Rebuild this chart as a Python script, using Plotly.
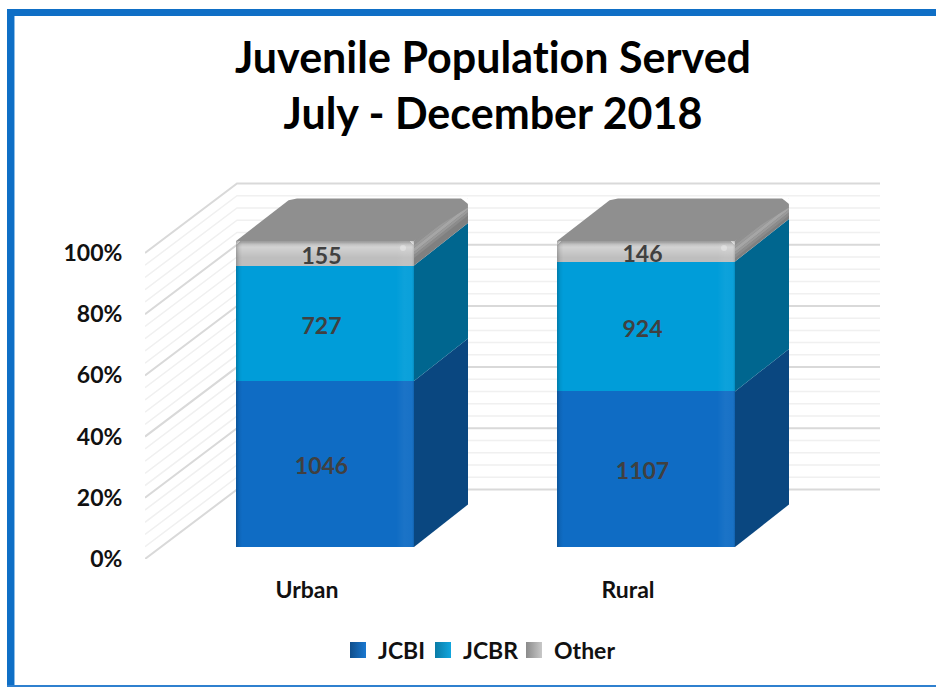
import plotly.graph_objects as go

# ---- data ----
categories = ["Urban", "Rural"]
series_names = ["JCBI", "JCBR", "Other"]
jcbi = [1046, 1107]
jcbr = [727, 924]
other = [155, 146]
percent_ticks = [0, 20, 40, 60, 80, 100]
percent_labels = ["0%", "20%", "40%", "60%", "80%", "100%"]
wall_minor_step = 4

# ---- styling ----
front_colors = ["#0F6CC4", "#009DD9", "#BEBEBE"]
side_colors = ["#0A4780", "#00668F", "#808080"]
legend_dark = ["#0F4E8C", "#0A7BA6", "#8A8A8A"]
legend_light = ["#1A78D0", "#12A6DE", "#C8C8C8"]
top_color = "#8F8F8F"
FRAME = "#0F6FC6"
FONT = "Lato"

W, H = 936, 687
PL, PR, PT, PB = 145, 0, 170, 128      # plot area margins
UNIT_X = 321.0                         # pixels per category
UNIT_Y = 3.06                          # pixels per percent
LABEL_X0 = 307.0                       # pixel of the first category label

BAR_SHIFT = 18 / UNIT_X
BAR_W = 178 / UNIT_X
BAR_BASE = 12 / UNIT_Y
BAR_DX = 54 / UNIT_X
BAR_DY = 42.5 / UNIT_Y
WALL_DX = 92 / UNIT_X
WALL_DY = 69.5 / UNIT_Y
XMIN = (PL - LABEL_X0) / UNIT_X
XMAX = (W - PR - LABEL_X0) / UNIT_X
WALL_END = (880 - LABEL_X0) / UNIT_X
YMAX = (H - PB - PT) / UNIT_Y


def paper_x(px):
    return (px - PL) / (W - PL - PR)


def paper_y(py):
    return (H - PB - py) / (H - PB - PT)


values = [jcbi, jcbr, other]
totals = [sum(v[i] for v in values) for i in range(len(categories))]
shares = [[v[i] / totals[i] * 100 for i in range(len(categories))] for v in values]

fig = go.Figure()

# invisible spacer lifting the bars off the front edge of the floor
fig.add_bar(
    x=[i + BAR_SHIFT for i in range(len(categories))],
    y=[BAR_BASE] * len(categories),
    width=BAR_W,
    marker=dict(color="rgba(0,0,0,0)", line_width=0),
    showlegend=False,
    hoverinfo="skip",
)
# front faces
for s, name in enumerate(series_names):
    fig.add_bar(
        x=[i + BAR_SHIFT for i in range(len(categories))],
        y=shares[s],
        width=BAR_W,
        name=name,
        legendgroup=name,
        showlegend=False,
        marker=dict(color=front_colors[s], line_width=0),
    )


def poly(xs, ys, color=None, gradient=None):
    kw = dict(fillcolor=color) if color else dict(fillgradient=gradient)
    fig.add_scatter(
        x=xs + xs[:1], y=ys + ys[:1], mode="lines", fill="toself",
        line=dict(width=0), showlegend=False, hoverinfo="skip", **kw
    )


# soft bevel bands on the side of the top segment: (from px, to px, colour)
side_bands = [(0, 4, "#909090"), (4, 7, "#9B9B9B"), (7, 11, "#A6A6A6"),
              (11, 14, "#9A9A9A"), (14, 17, "#8C8C8C")]

for i in range(len(categories)):
    left = i + BAR_SHIFT - BAR_W / 2
    right = i + BAR_SHIFT + BAR_W / 2
    lo = BAR_BASE
    # side faces
    for s in range(3):
        hi = lo + shares[s][i]
        poly([right, right + BAR_DX, right + BAR_DX, right],
             [lo, lo + BAR_DY, hi + BAR_DY, hi], side_colors[s])
        lo = hi
    top = lo
    ch = 9 / UNIT_Y   # rounding of the back corners
    cx = 7 / UNIT_X
    # bevel bands running along the upper edge of the side face
    for a, b, c in side_bands:
        a_u, b_u = a / UNIT_Y, b / UNIT_Y
        poly([right, right + BAR_DX, right + BAR_DX, right],
             [top - a_u, top + BAR_DY - a_u, top + BAR_DY - b_u, top - b_u], c)
    # top face, back corners chamfered
    poly([left, right, right + BAR_DX, right + BAR_DX - 0.3 * cx, right + BAR_DX - cx,
          left + BAR_DX + cx, left + BAR_DX - 0.2 * cx, left],
         [top, top, top + BAR_DY - ch, top + BAR_DY - 0.25 * ch, top + BAR_DY,
          top + BAR_DY, top + BAR_DY - 0.2 * ch, top],
         top_color)
    # white corner cut-out so that the back-right corner reads rounded
    poly([right + BAR_DX, right + BAR_DX, right + BAR_DX - cx],
         [top + BAR_DY - 0.6 * ch, top + BAR_DY + 0.1, top + BAR_DY + 0.1], "white")
    # bevel along the top of the front face
    bevel = 22 / UNIT_Y
    poly([left, right, right, left], [top - bevel, top - bevel, top, top],
         gradient=dict(type="vertical", colorscale=[
             [0, "rgba(255,255,255,0)"], [0.25, "rgba(255,255,255,0)"], [0.72, "rgba(255,255,255,0.32)"],
             [0.82, "rgba(255,255,255,0.12)"], [0.92, "rgba(70,70,70,0.18)"], [1, "rgba(70,70,70,0.3)"]]))
    # soft shading across the front face
    poly([left, right, right, left], [BAR_BASE, BAR_BASE, top, top],
         gradient=dict(type="horizontal", colorscale=[
             [0, "rgba(0,0,0,0.22)"], [0.018, "rgba(0,0,0,0.06)"], [0.035, "rgba(0,0,0,0)"],
             [0.9, "rgba(255,255,255,0)"], [0.945, "rgba(255,255,255,0.05)"],
             [0.985, "rgba(255,255,255,0.04)"], [1, "rgba(0,0,0,0.12)"]]))

# small highlight where the bevels meet
fig.add_scatter(
    x=[i + BAR_SHIFT + BAR_W / 2 - 11 / UNIT_X for i in range(len(categories))],
    y=[BAR_BASE + 100 - 7 / UNIT_Y] * len(categories),
    mode="markers", marker=dict(size=6, color="rgba(255,255,255,0.3)", line_width=0),
    showlegend=False, hoverinfo="skip",
)

# data labels
for s in range(3):
    xs, ys, txt = [], [], []
    for i in range(len(categories)):
        lo = BAR_BASE + sum(shares[k][i] for k in range(s))
        xs.append(i + BAR_SHIFT - 3.5 / UNIT_X)
        ys.append(lo + shares[s][i] / 2 - 4.5 / UNIT_Y)
        txt.append(str(values[s][i]))
    fig.add_scatter(
        x=xs, y=ys, text=txt, mode="text", textposition="middle center",
        textfont=dict(family=FONT, size=23, color="#404040", weight="bold"),
        showlegend=False, hoverinfo="skip",
    )

# legend keys, one legend per entry so that each sits where the reference has it
legend_ids = ["legend", "legend2", "legend3"]
legend_lefts = [338, 423, 514]
for s, name in enumerate(series_names):
    fig.add_scatter(
        x=[None], y=[None], mode="markers", name=name, legendgroup=name,
        legend=legend_ids[s],
        marker=dict(symbol="square", size=16, color=legend_dark[s],
                    gradient=dict(type="horizontal", color=legend_light[s])),
    )

# back wall + side wall gridlines
shapes = []
for v in range(0, 101, wall_minor_step):
    major = v in percent_ticks
    shapes.append(dict(
        type="path", xref="x", yref="y", layer="below",
        path=f"M{XMIN},{v} L{XMIN + WALL_DX},{v + WALL_DY} L{WALL_END},{v + WALL_DY}",
        line=dict(color="#D9D9D9" if major else "#F0F0F0", width=2 if major else 1.5),
    ))

# frame round the picture
for x0, x1, y0, y1, c in [
    (7, W, 9, 16, FRAME),
    (7, 14, 9, H, FRAME),
    (14, 15, 16, H, "#8DBDE8"),
    (7, W, 685, H, "#2F80CF"),
]:
    shapes.append(dict(
        type="rect", xref="paper", yref="paper", layer="above", line_width=0, fillcolor=c,
        x0=paper_x(x0), x1=paper_x(x1), y0=paper_y(y0), y1=paper_y(y1),
    ))

legend_layout = {
    legend_ids[s]: dict(
        orientation="h", x=paper_x(legend_lefts[s]), xanchor="left",
        y=paper_y(650), yanchor="middle",
        font=dict(family=FONT, size=23, color="#111111", weight="bold"),
        itemsizing="trace", bgcolor="rgba(0,0,0,0)",
    )
    for s in range(3)
}

fig.update_layout(
    width=W, height=H,
    autosize=False,
    paper_bgcolor="white", plot_bgcolor="rgba(0,0,0,0)",
    margin=dict(l=PL, r=PR, t=PT, b=PB, pad=0),
    barmode="stack",
    barcornerradius=7,
    shapes=shapes,
    font=dict(family=FONT),
    title=dict(
        text="Juvenile Population Served<br>July - December 2018",
        x=493 / W, xanchor="center", y=1 - 73 / H, yanchor="middle",
        font=dict(family=FONT, size=43, color="black", weight="bold"),
    ),
    xaxis=dict(
        range=[XMIN, XMAX], tickvals=list(range(len(categories))), ticktext=categories,
        showgrid=False, zeroline=False, showline=False,
        ticks="outside", ticklen=10, tickcolor="rgba(0,0,0,0)",
        tickfont=dict(family=FONT, size=23, color="#111111", weight="bold"),
    ),
    yaxis=dict(
        range=[0, YMAX], tickvals=percent_ticks, ticktext=percent_labels,
        showgrid=False, zeroline=False, showline=False,
        ticks="outside", ticklen=17, tickcolor="rgba(0,0,0,0)",
        tickfont=dict(family=FONT, size=23, color="#111111", weight="bold"),
    ),
    **legend_layout,
)

page_fix = """
document.body.style.margin = '0';
var st = document.createElement('style');
st.textContent = 'text { font-variant-ligatures: none !important; font-feature-settings: "liga" 0, "clig" 0, "dlig" 0 !important; letter-spacing: 0.01px; }';
document.head.appendChild(st);
"""
fig.write_html("out.html", post_script=page_fix, config={"displayModeBar": False})
